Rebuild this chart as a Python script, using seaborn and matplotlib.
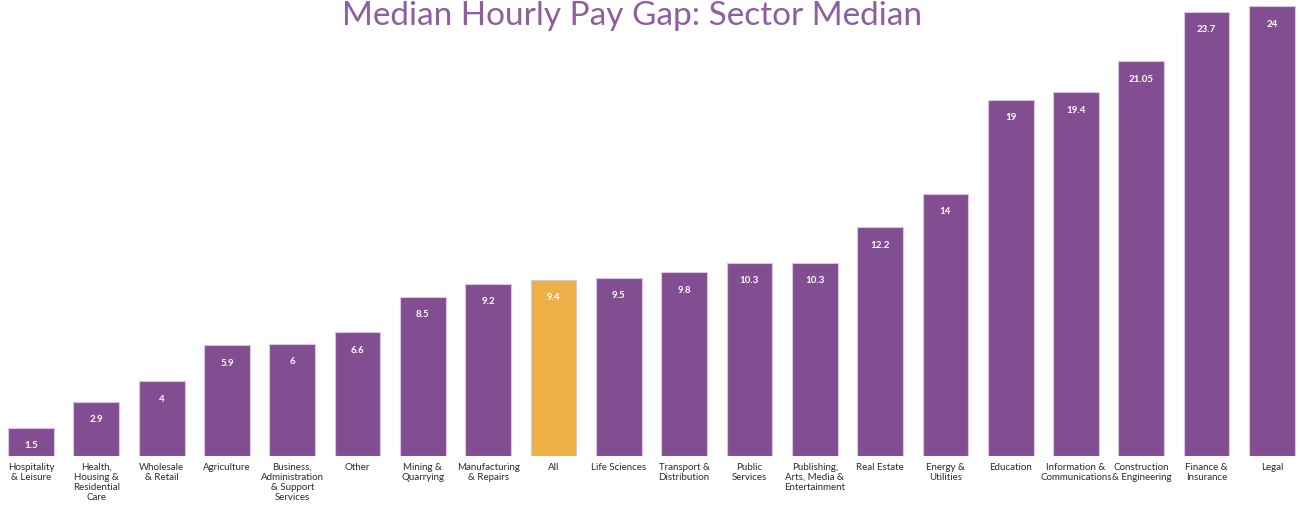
import matplotlib.pyplot as plt
import seaborn as sns
import pandas as pd

# Sector labels (as shown under the bars) and median hourly pay gap values
sectors = [
    "Hospitality\n& Leisure", "Health,\nHousing &\nResidential\nCare", "Wholesale\n& Retail",
    "Agriculture", "Business,\nAdministration\n& Support\nServices", "Other",
    "Mining &\nQuarrying", "Manufacturing\n& Repairs", "All", "Life Sciences",
    "Transport &\nDistribution", "Public\nServices", "Publishing,\nArts, Media &\nEntertainment",
    "Real Estate", "Energy &\nUtilities", "Education", "Information &\nCommunications",
    "Construction\n& Engineering", "Finance &\nInsurance", "Legal",
]
values = [1.5, 2.9, 4, 5.9, 6, 6.6, 8.5, 9.2, 9.4, 9.5, 9.8, 10.3, 10.3, 12.2, 14, 19, 19.4, 21.05, 23.7, 24]
highlight = "All"

PURPLE = "#834E91"
GOLD = "#EDAF48"
TITLE_COLOR = "#8D5FA0"

df = pd.DataFrame({"sector": sectors, "value": values})
palette = {s: (GOLD if s == highlight else PURPLE) for s in sectors}

sns.set_style("white")
plt.rcParams["font.family"] = ["Lato", "DejaVu Sans"]

fig = plt.figure(figsize=(13, 5.06), dpi=100)
ax = fig.add_axes([0, 49 / 506, 1, 457 / 506])

sns.barplot(data=df, x="sector", y="value", hue="sector", palette=palette,
            order=sectors, legend=False, width=0.7, saturation=1,
            edgecolor="#D9C6DF", linewidth=0.8, ax=ax)

ax.set_xlim(-0.475, 19.43)
ax.set_ylim(0, 457 / 18.75)
ax.set_xlabel("")
ax.set_ylabel("")
ax.set_yticks([])
ax.set_xticks(range(len(sectors)))
ax.set_xticklabels(sectors, fontsize=7.0, color="#2b2b2b", linespacing=1.15, va="top")
ax.tick_params(axis="x", length=0, pad=4)
sns.despine(ax=ax, left=True, bottom=True)

# value labels inside bar tops
for i, v in enumerate(values):
    ax.annotate(f"{v:g}", (i, v), xytext=(0, -17), textcoords="offset pixels",
                ha="center", va="center", color="white", fontsize=7, fontweight="bold")

fig.text(0.486, 1 - 25 / 506, "Median Hourly Pay Gap: Sector Median", ha="center", va="baseline",
         fontsize=24, color=TITLE_COLOR, fontweight="normal")

fig.savefig("out.png", dpi=100)
